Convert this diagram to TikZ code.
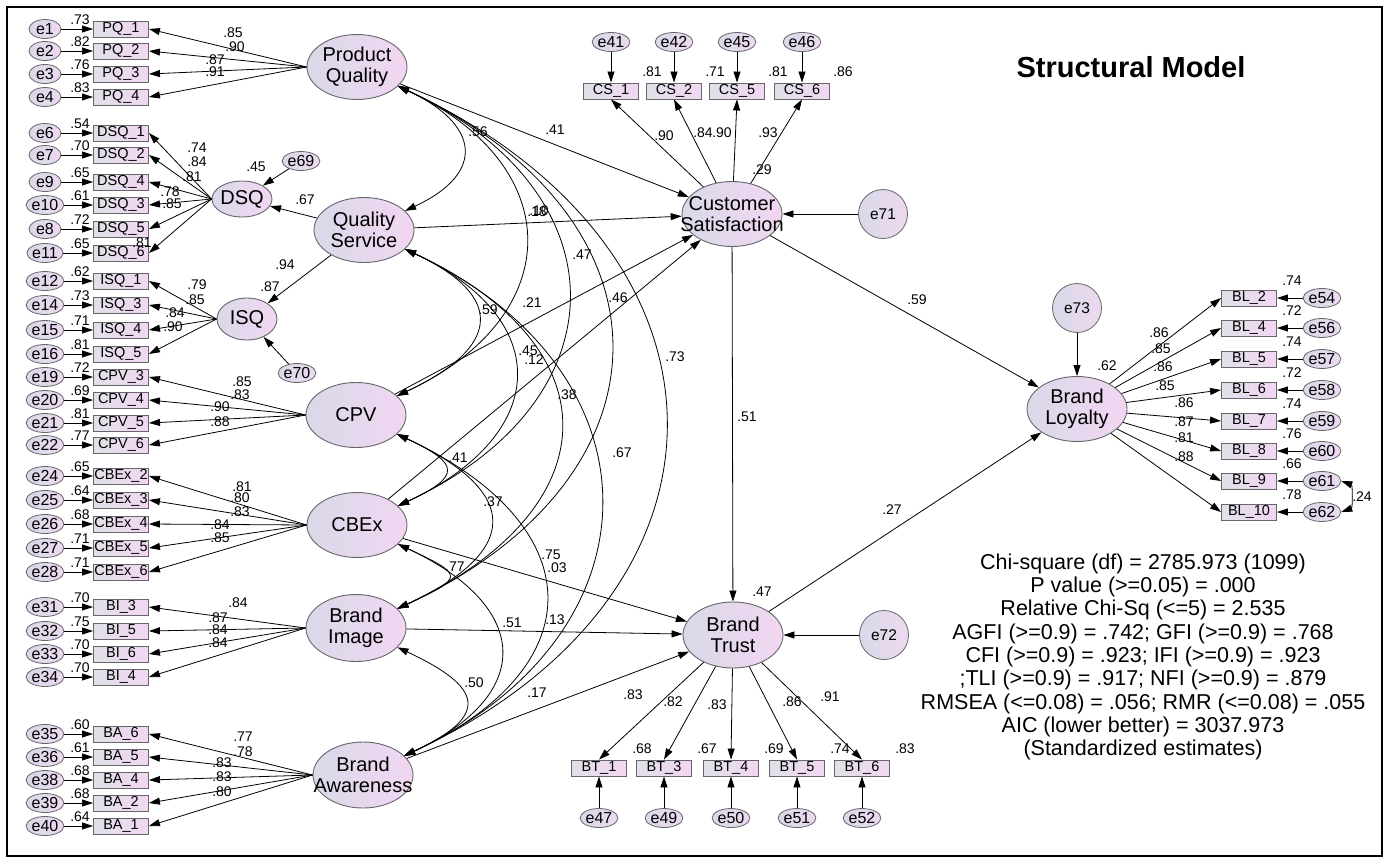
\documentclass[tikz,border=0pt]{standalone}
\usepackage{fontspec}
\setmainfont{Liberation Sans}
\usetikzlibrary{arrows.meta, shapes.geometric}
\definecolor{LatGray}{rgb}{0.85, 0.85, 0.91}
\definecolor{LatPink}{rgb}{0.95, 0.84, 0.95}
\definecolor{BoxGray}{rgb}{0.88, 0.88, 0.91}
\definecolor{ErrPink}{rgb}{0.93, 0.85, 0.94}
\definecolor{EdgeGray}{rgb}{0.40, 0.40, 0.42}

\tikzset{
  lat/.style={ellipse, draw=EdgeGray, line width=0.9pt, left color=LatGray, right color=LatPink,
    minimum width=100pt, minimum height=65pt, inner sep=0pt},
  lattxt/.style={align=center, inner sep=0pt, font=\fontsize{20}{21}\selectfont},
  ind/.style={rectangle, draw=EdgeGray, line width=0.9pt, left color=BoxGray, right color=LatPink,
    minimum width=55pt, minimum height=16pt, inner sep=0pt, font=\fontsize{14.5}{14.5}\selectfont},
  err/.style={ellipse, draw=EdgeGray, line width=0.8pt, left color=LatGray, right color=ErrPink,
    minimum width=32pt, minimum height=19pt, inner sep=0pt, font=\fontsize{16}{16}\selectfont},
  errc/.style={circle, draw=EdgeGray, line width=0.8pt, left color=LatGray, right color=ErrPink,
    minimum size=49pt, inner sep=0pt, font=\fontsize{15.5}{15.5}\selectfont},
  num/.style={inner sep=0pt, font=\fontsize{14}{14}\selectfont},
  rel/.style={->, line width=0.8pt},
  cov/.style={<->, line width=0.8pt}
}

\begin{document}
\begin{tikzpicture}[x=1pt, y=-1pt, >={Triangle[length=11pt, width=7pt]}]
        \useasboundingbox (0,0) rectangle (1389,860);
        \draw [line width=1.4pt] (7,7) rectangle (1382,856);
        \node [font=\bfseries\fontsize{29}{29}\selectfont] (title) at (1131,67) {Structural Model};

        % Exogenous constructs
        \node [lat, label={[lattxt]center:Product\\Quality}] (pq) at (357,67) {};
        \node [lat, label={[lattxt]center:Quality\\Service}] (qs) at (364,230) {};
        \node [lat, minimum width=60pt, minimum height=36pt, label={[lattxt]center:DSQ}] (dsq) at (242,199) {};
        \node [lat, minimum width=60pt, minimum height=42pt, label={[lattxt]center:ISQ}] (isq) at (247,319) {};
        \node [lat, label={[lattxt]center:CPV}] (cpv) at (356,415) {};
        \node [lat, label={[lattxt]center:CBEx}] (cbex) at (357,525) {};
        \node [lat, minimum height=67pt, label={[lattxt]center:Brand\\Image}] (bi) at (356,628) {};
        \node [lat, minimum height=66pt, label={[lattxt]center:Brand\\Awareness}] (ba) at (363,775) {};

        % Endogenous constructs
        \node [lat, label={[lattxt]center:Customer\\Satisfaction}] (cs) at (732,214) {};
        \node [lat, minimum height=66pt, label={[lattxt]center:Brand\\Trust}] (bt) at (733,635) {};
        \node [lat, label={[lattxt]center:Brand\\Loyalty}] (bl) at (1077,409) {};

        % Disturbances
        \node [err] (e69) at (301,161) {e69};
        \node [err] (e70) at (297,373) {e70};
        \node [errc] (e71) at (883,214) {e71};
        \node [errc] (e72) at (884,635) {e72};
        \node [errc] (e73) at (1077,308) {e73};
        \draw [rel] (e69) -- (dsq);
        \draw [rel] (e70) -- (isq);
        \draw [rel] (e71) -- (cs);
        \draw [rel] (e72) -- (bt);
        \draw [rel] (e73) -- (bl);

        % Left measurement blocks
        \foreach \lv/\bx/\tx/\er/\yy/\vr/\ld/\lx/\ly in {
            pq/pq1/PQ\_1/e1/29/.73/.85/233/33, pq/pq2/PQ\_2/e2/51/.82/.90/235/47,
            pq/pq3/PQ\_3/e3/74/.76/.87/215/60, pq/pq4/PQ\_4/e4/97/.83/.91/215/72,
            dsq/dsq1/DSQ\_1/e6/133/.54/.74/197/148, dsq/dsq2/DSQ\_2/e7/155/.70/.84/197/162,
            dsq/dsq4/DSQ\_4/e9/182/.65/.81/192/177, dsq/dsq3/DSQ\_3/e10/205/.61/.78/170/192,
            dsq/dsq5/DSQ\_5/e8/229/.72/.85/172/204, dsq/dsq6/DSQ\_6/e11/253/.65/.81/142/243,
            isq/isq1/ISQ\_1/e12/281/.62/.79/197/285, isq/isq3/ISQ\_3/e14/305/.73/.85/195/300,
            isq/isq4/ISQ\_4/e15/330/.71/.84/175/313, isq/isq5/ISQ\_5/e16/354/.81/.90/173/327,
            cpv/cpv3/CPV\_3/e19/377/.72/.85/242/382, cpv/cpv4/CPV\_4/e20/400/.69/.83/240/395,
            cpv/cpv5/CPV\_5/e21/423/.81/.90/220/407, cpv/cpv6/CPV\_6/e22/445/.77/.88/220/422,
            cbex/cbex2/CBEx\_2/e24/476/.65/.81/242/487, cbex/cbex3/CBEx\_3/e25/500/.64/.80/240/498,
            cbex/cbex4/CBEx\_4/e26/524/.68/.83/240/512, cbex/cbex5/CBEx\_5/e27/548/.71/.84/220/525,
            cbex/cbex6/CBEx\_6/e28/572/.71/.85/220/538,
            bi/bi3/BI\_3/e31/607/.70/.84/238/603, bi/bi5/BI\_5/e32/631/.75/.87/218/618,
            bi/bi6/BI\_6/e33/654/.70/.84/218/630, bi/bi4/BI\_4/e34/677/.70/.84/218/643,
            ba/ba6/BA\_6/e35/734/.60/.77/243/737, ba/ba5/BA\_5/e36/757/.61/.78/243/752,
            ba/ba4/BA\_4/e38/780/.68/.83/222/763, ba/ba2/BA\_2/e39/803/.68/.83/222/777,
            ba/ba1/BA\_1/e40/826/.64/.80/222/792}{
            \node [err] (\er) at (45,\yy) {\er};
            \node [ind] (\bx) at (121,\yy) {\tx};
            \node [num] (v\bx) at (80,\yy-9) {\vr};
            \node [num] (l\bx) at (\lx,\ly) {\ld};
            \draw [rel] (\er) -- (\bx);
            \draw [rel] (\lv.west) -- (\bx.east);
        }

        % Customer satisfaction indicators
        \foreach \bx/\tx/\er/\xx/\vr/\ld/\lx/\ly in {
            cs1/CS\_1/e41/611/.81/.90/664/136, cs2/CS\_2/e42/674/.71/.84/703/133,
            cs5/CS\_5/e45/737/.81/.90/722/133, cs6/CS\_6/e46/802/.86/.93/768/133}{
            \node [err] (\er) at (\xx,42) {\er};
            \node [ind] (\bx) at (\xx,91) {\tx};
            \node [num] (v\bx) at (\xx+41,72) {\vr};
            \node [num] (l\bx) at (\lx,\ly) {\ld};
            \draw [rel] (\er) -- (\bx);
            \draw [rel] (cs) -- (\bx.south);
        }

        % Brand trust indicators
        \foreach \bx/\tx/\er/\xx/\vr/\ld/\lx/\ly in {
            bt1/BT\_1/e47/599/.68/.83/633/695, bt3/BT\_3/e49/664/.67/.82/673/702,
            bt4/BT\_4/e50/731/.69/.83/717/705, bt5/BT\_5/e51/797/.74/.86/792/702,
            bt6/BT\_6/e52/862/.83/.91/830/697}{
            \node [err] (\er) at (\xx,818) {\er};
            \node [ind] (\bx) at (\xx,768) {\tx};
            \node [num] (v\bx) at (\xx+43,749) {\vr};
            \node [num] (l\bx) at (\lx,\ly) {\ld};
            \draw [rel] (\er) -- (\bx);
            \draw [rel] (bt) -- (\bx.north);
        }

        % Brand loyalty indicators
        \foreach \bx/\tx/\er/\yy/\vr/\ld/\lx/\ly in {
            bl2/BL\_2/e54/298/.74/.86/1159/333, bl4/BL\_4/e56/328/.72/.85/1161/349,
            bl5/BL\_5/e57/359/.74/.86/1163/367, bl6/BL\_6/e58/390/.72/.85/1165/386,
            bl7/BL\_7/e59/421/.74/.86/1184/403, bl8/BL\_8/e60/451/.76/.87/1184/422,
            bl9/BL\_9/e61/481/.66/.81/1184/438, bl10/BL\_10/e62/512/.78/.88/1184/457}{
            \node [err] (\er) at (1322,\yy) {\er};
            \node [ind] (\bx) at (1249,\yy) {\tx};
            \node [num] (v\bx) at (1292,\yy-17) {\vr};
            \node [num] (l\bx) at (\lx,\ly) {\ld};
            \draw [rel] (\er) -- (\bx);
            \draw [rel] (bl) -- (\bx.west);
        }
        \draw [cov] (e61.east) to[bend left=70] (e62.east);
        \node [num] (r24) at (1362,497) {.24};

        % Second order and structural paths
        \draw [rel] (qs) -- (dsq);
        \draw [rel] (qs) -- (isq);
        \draw [rel] (pq) -- (cs);
        \draw [rel] (qs) -- (cs);
        \draw [rel] (cpv) -- (cs);
        \draw [rel] (cbex) -- (cs);
        \draw [rel] (cbex) -- (bt);
        \draw [rel] (bi) -- (bt);
        \draw [rel] (ba) -- (bt);
        \draw [rel] (cs) -- (bt);
        \draw [rel] (cs) -- (bl);
        \draw [rel] (bt) -- (bl);

        % Covariances among exogenous constructs
        \foreach \a/\b/\d in {pq/qs/90, qs/cpv/113, cpv/cbex/70, cbex/bi/74, bi/ba/95,
            pq/cpv/188, qs/cbex/167, cpv/bi/137, cbex/ba/146, pq/cbex/250, qs/bi/234,
            cpv/ba/213, pq/bi/313, qs/ba/288, pq/ba/388}
            \draw [cov] (\a) to[out=-25, in=25, distance=\d pt] (\b);

        % Estimates
        \foreach \v/\xx/\yy [count=\i] in {.45/256/167, .67/305/200, .94/285/265, .87/270/287,
            .41/555/130, .18/537/212, .10/539/211, .21/532/303, .46/618/298, .03/557/568,
            .13/555/620, .17/537/693, .51/747/417, .59/917/300, .27/892/510,
            .29/762/170, .47/762/592, .62/1107/366,
            .56/478/132, .47/582/255, .59/488/310, .45/528/351, .12/534/360, .38/567/395,
            .73/675/357, .67/622/453, .41/458/458, .37/493/502, .77/455/567, .75/551/555,
            .51/512/623, .50/474/683}
            \node [num] (s\i) at (\xx,\yy) {\v};

        % Fit indices
        \node [align=center, font=\fontsize{21.5}{23.3}\selectfont] (fit) at (1143,657)
            {Chi-square (df) = 2785.973 (1099)\\P value (>=0.05) = .000\\Relative Chi-Sq (<=5) = 2.535\\
             AGFI (>=0.9) = .742; GFI (>=0.9) = .768\\CFI (>=0.9) = .923; IFI (>=0.9) = .923\\
             ;TLI (>=0.9) = .917; NFI (>=0.9) = .879\\RMSEA (<=0.08) = .056; RMR (<=0.08) = .055\\
             AIC (lower better) = 3037.973\\(Standardized estimates)};
    \end{tikzpicture}
\end{document}
